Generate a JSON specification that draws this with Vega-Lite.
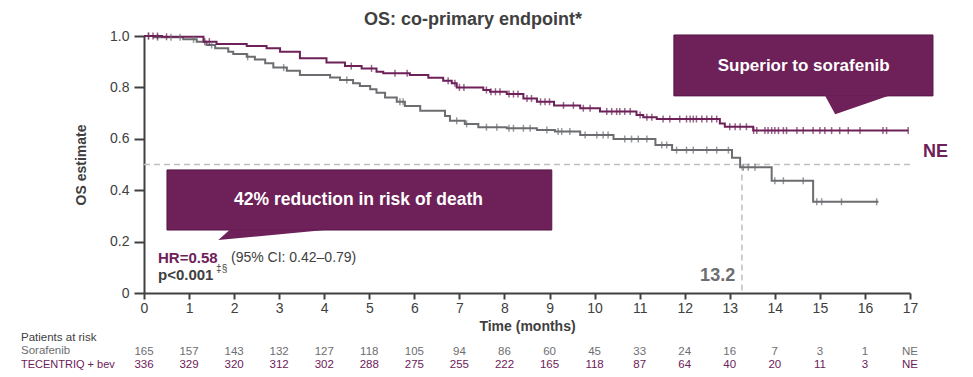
{
  "$schema": "https://vega.github.io/schema/vega-lite/v6.json",
  "width": 766,
  "height": 257,
  "autosize": {"type": "none"},
  "padding": {"left": 144, "top": 36, "right": 63, "bottom": 84},
  "background": "white",
  "title": {"text": "OS: co-primary endpoint*", "fontSize": 18, "fontWeight": "bold", "color": "#404040", "anchor": "middle", "offset": 0, "dx": -54, "font": "Liberation Sans"},
  "config": {
    "view": {"stroke": null},
    "font": "Liberation Sans",
    "axis": {"grid": false, "domainColor": "#404040", "domainWidth": 2, "tickColor": "#404040", "tickWidth": 2, "labelColor": "#404040", "labelFont": "Liberation Sans", "labelFontSize": 14, "titleColor": "#404040", "titleFont": "Liberation Sans", "titleFontSize": 14, "titleFontWeight": "bold", "labelOverlap": false, "labelFlush": false},
    "axisX": {"tickSize": 6, "labelPadding": 2, "titlePadding": 4},
    "axisY": {"tickSize": 10, "labelPadding": 5, "titlePadding": 21}
  },
  "datasets": {
    "km": [
      {"arm": "Sorafenib", "time": 0, "surv": 1.0},
      {"arm": "Sorafenib", "time": 0.22, "surv": 0.995},
      {"arm": "Sorafenib", "time": 0.87, "surv": 0.987},
      {"arm": "Sorafenib", "time": 1.17, "surv": 0.978},
      {"arm": "Sorafenib", "time": 1.39, "surv": 0.965},
      {"arm": "Sorafenib", "time": 1.58, "surv": 0.952},
      {"arm": "Sorafenib", "time": 1.87, "surv": 0.939},
      {"arm": "Sorafenib", "time": 1.98, "surv": 0.93},
      {"arm": "Sorafenib", "time": 2.28, "surv": 0.919},
      {"arm": "Sorafenib", "time": 2.46, "surv": 0.909},
      {"arm": "Sorafenib", "time": 2.69, "surv": 0.894},
      {"arm": "Sorafenib", "time": 2.87, "surv": 0.877},
      {"arm": "Sorafenib", "time": 3.17, "surv": 0.865},
      {"arm": "Sorafenib", "time": 3.46, "surv": 0.848},
      {"arm": "Sorafenib", "time": 4.13, "surv": 0.839},
      {"arm": "Sorafenib", "time": 4.35, "surv": 0.829},
      {"arm": "Sorafenib", "time": 4.64, "surv": 0.816},
      {"arm": "Sorafenib", "time": 4.79, "surv": 0.805},
      {"arm": "Sorafenib", "time": 5.02, "surv": 0.793},
      {"arm": "Sorafenib", "time": 5.16, "surv": 0.779},
      {"arm": "Sorafenib", "time": 5.35, "surv": 0.761},
      {"arm": "Sorafenib", "time": 5.61, "surv": 0.744},
      {"arm": "Sorafenib", "time": 5.79, "surv": 0.728},
      {"arm": "Sorafenib", "time": 6.13, "surv": 0.709},
      {"arm": "Sorafenib", "time": 6.68, "surv": 0.689},
      {"arm": "Sorafenib", "time": 6.79, "surv": 0.67},
      {"arm": "Sorafenib", "time": 7.12, "surv": 0.658},
      {"arm": "Sorafenib", "time": 7.42, "surv": 0.645},
      {"arm": "Sorafenib", "time": 8.05, "surv": 0.641},
      {"arm": "Sorafenib", "time": 8.72, "surv": 0.634},
      {"arm": "Sorafenib", "time": 9.12, "surv": 0.628},
      {"arm": "Sorafenib", "time": 9.68, "surv": 0.615},
      {"arm": "Sorafenib", "time": 10.42, "surv": 0.599},
      {"arm": "Sorafenib", "time": 11.35, "surv": 0.576},
      {"arm": "Sorafenib", "time": 11.72, "surv": 0.556},
      {"arm": "Sorafenib", "time": 13.05, "surv": 0.526},
      {"arm": "Sorafenib", "time": 13.23, "surv": 0.489},
      {"arm": "Sorafenib", "time": 13.93, "surv": 0.437},
      {"arm": "Sorafenib", "time": 14.85, "surv": 0.355},
      {"arm": "Sorafenib", "time": 16.3, "surv": 0.355},
      {"arm": "TECENTRIQ + bev", "time": 0, "surv": 1.0},
      {"arm": "TECENTRIQ + bev", "time": 0.4, "surv": 0.997},
      {"arm": "TECENTRIQ + bev", "time": 1.32, "surv": 0.978},
      {"arm": "TECENTRIQ + bev", "time": 1.61, "surv": 0.969},
      {"arm": "TECENTRIQ + bev", "time": 2.28, "surv": 0.961},
      {"arm": "TECENTRIQ + bev", "time": 2.72, "surv": 0.952},
      {"arm": "TECENTRIQ + bev", "time": 3.02, "surv": 0.939},
      {"arm": "TECENTRIQ + bev", "time": 3.46, "surv": 0.913},
      {"arm": "TECENTRIQ + bev", "time": 4.05, "surv": 0.897},
      {"arm": "TECENTRIQ + bev", "time": 4.46, "surv": 0.883},
      {"arm": "TECENTRIQ + bev", "time": 4.83, "surv": 0.874},
      {"arm": "TECENTRIQ + bev", "time": 5.16, "surv": 0.861},
      {"arm": "TECENTRIQ + bev", "time": 5.31, "surv": 0.855},
      {"arm": "TECENTRIQ + bev", "time": 5.9, "surv": 0.848},
      {"arm": "TECENTRIQ + bev", "time": 6.31, "surv": 0.838},
      {"arm": "TECENTRIQ + bev", "time": 6.64, "surv": 0.826},
      {"arm": "TECENTRIQ + bev", "time": 6.83, "surv": 0.816},
      {"arm": "TECENTRIQ + bev", "time": 6.94, "surv": 0.8},
      {"arm": "TECENTRIQ + bev", "time": 7.53, "surv": 0.79},
      {"arm": "TECENTRIQ + bev", "time": 7.68, "surv": 0.783},
      {"arm": "TECENTRIQ + bev", "time": 8.05, "surv": 0.774},
      {"arm": "TECENTRIQ + bev", "time": 8.42, "surv": 0.757},
      {"arm": "TECENTRIQ + bev", "time": 8.72, "surv": 0.744},
      {"arm": "TECENTRIQ + bev", "time": 9.1, "surv": 0.73},
      {"arm": "TECENTRIQ + bev", "time": 9.68, "surv": 0.719},
      {"arm": "TECENTRIQ + bev", "time": 10.12, "surv": 0.706},
      {"arm": "TECENTRIQ + bev", "time": 10.93, "surv": 0.693},
      {"arm": "TECENTRIQ + bev", "time": 11.08, "surv": 0.684},
      {"arm": "TECENTRIQ + bev", "time": 11.38, "surv": 0.677},
      {"arm": "TECENTRIQ + bev", "time": 12.78, "surv": 0.66},
      {"arm": "TECENTRIQ + bev", "time": 12.89, "surv": 0.647},
      {"arm": "TECENTRIQ + bev", "time": 13.52, "surv": 0.632},
      {"arm": "TECENTRIQ + bev", "time": 16.96, "surv": 0.632}
    ],
    "censor": [
      {"arm": "Sorafenib", "time": 0.1, "surv": 1.0},
      {"arm": "Sorafenib", "time": 0.3, "surv": 0.995},
      {"arm": "Sorafenib", "time": 0.6, "surv": 0.995},
      {"arm": "Sorafenib", "time": 0.8, "surv": 0.995},
      {"arm": "Sorafenib", "time": 1.1, "surv": 0.987},
      {"arm": "Sorafenib", "time": 1.5, "surv": 0.965},
      {"arm": "Sorafenib", "time": 2.3, "surv": 0.919},
      {"arm": "Sorafenib", "time": 3.1, "surv": 0.877},
      {"arm": "Sorafenib", "time": 4.5, "surv": 0.829},
      {"arm": "Sorafenib", "time": 5.68, "surv": 0.744},
      {"arm": "Sorafenib", "time": 5.75, "surv": 0.744},
      {"arm": "Sorafenib", "time": 6.94, "surv": 0.67},
      {"arm": "Sorafenib", "time": 7.16, "surv": 0.658},
      {"arm": "Sorafenib", "time": 7.6, "surv": 0.645},
      {"arm": "Sorafenib", "time": 7.83, "surv": 0.645},
      {"arm": "Sorafenib", "time": 8.1, "surv": 0.641},
      {"arm": "Sorafenib", "time": 8.2, "surv": 0.641},
      {"arm": "Sorafenib", "time": 8.42, "surv": 0.641},
      {"arm": "Sorafenib", "time": 8.57, "surv": 0.641},
      {"arm": "Sorafenib", "time": 8.94, "surv": 0.634},
      {"arm": "Sorafenib", "time": 9.19, "surv": 0.628},
      {"arm": "Sorafenib", "time": 9.27, "surv": 0.628},
      {"arm": "Sorafenib", "time": 9.45, "surv": 0.628},
      {"arm": "Sorafenib", "time": 9.79, "surv": 0.615},
      {"arm": "Sorafenib", "time": 10.05, "surv": 0.615},
      {"arm": "Sorafenib", "time": 10.19, "surv": 0.615},
      {"arm": "Sorafenib", "time": 10.3, "surv": 0.615},
      {"arm": "Sorafenib", "time": 10.67, "surv": 0.599},
      {"arm": "Sorafenib", "time": 10.82, "surv": 0.599},
      {"arm": "Sorafenib", "time": 10.97, "surv": 0.599},
      {"arm": "Sorafenib", "time": 11.16, "surv": 0.599},
      {"arm": "Sorafenib", "time": 11.49, "surv": 0.576},
      {"arm": "Sorafenib", "time": 11.6, "surv": 0.576},
      {"arm": "Sorafenib", "time": 11.82, "surv": 0.556},
      {"arm": "Sorafenib", "time": 12.04, "surv": 0.556},
      {"arm": "Sorafenib", "time": 12.19, "surv": 0.556},
      {"arm": "Sorafenib", "time": 12.49, "surv": 0.556},
      {"arm": "Sorafenib", "time": 12.71, "surv": 0.556},
      {"arm": "Sorafenib", "time": 12.97, "surv": 0.556},
      {"arm": "Sorafenib", "time": 13.3, "surv": 0.489},
      {"arm": "Sorafenib", "time": 13.41, "surv": 0.489},
      {"arm": "Sorafenib", "time": 13.56, "surv": 0.489},
      {"arm": "Sorafenib", "time": 14.0, "surv": 0.437},
      {"arm": "Sorafenib", "time": 14.19, "surv": 0.437},
      {"arm": "Sorafenib", "time": 14.63, "surv": 0.437},
      {"arm": "Sorafenib", "time": 14.93, "surv": 0.355},
      {"arm": "Sorafenib", "time": 15.04, "surv": 0.355},
      {"arm": "Sorafenib", "time": 15.48, "surv": 0.355},
      {"arm": "Sorafenib", "time": 16.26, "surv": 0.355},
      {"arm": "TECENTRIQ + bev", "time": 0.1, "surv": 1.0},
      {"arm": "TECENTRIQ + bev", "time": 0.2, "surv": 1.0},
      {"arm": "TECENTRIQ + bev", "time": 0.3, "surv": 1.0},
      {"arm": "TECENTRIQ + bev", "time": 0.5, "surv": 0.997},
      {"arm": "TECENTRIQ + bev", "time": 1.35, "surv": 0.978},
      {"arm": "TECENTRIQ + bev", "time": 1.45, "surv": 0.978},
      {"arm": "TECENTRIQ + bev", "time": 4.6, "surv": 0.883},
      {"arm": "TECENTRIQ + bev", "time": 5.05, "surv": 0.874},
      {"arm": "TECENTRIQ + bev", "time": 5.57, "surv": 0.855},
      {"arm": "TECENTRIQ + bev", "time": 5.84, "surv": 0.855},
      {"arm": "TECENTRIQ + bev", "time": 6.75, "surv": 0.826},
      {"arm": "TECENTRIQ + bev", "time": 6.9, "surv": 0.816},
      {"arm": "TECENTRIQ + bev", "time": 7.0, "surv": 0.8},
      {"arm": "TECENTRIQ + bev", "time": 7.1, "surv": 0.8},
      {"arm": "TECENTRIQ + bev", "time": 7.6, "surv": 0.79},
      {"arm": "TECENTRIQ + bev", "time": 7.7, "surv": 0.783},
      {"arm": "TECENTRIQ + bev", "time": 7.8, "surv": 0.783},
      {"arm": "TECENTRIQ + bev", "time": 7.9, "surv": 0.783},
      {"arm": "TECENTRIQ + bev", "time": 8.1, "surv": 0.774},
      {"arm": "TECENTRIQ + bev", "time": 8.2, "surv": 0.774},
      {"arm": "TECENTRIQ + bev", "time": 8.3, "surv": 0.774},
      {"arm": "TECENTRIQ + bev", "time": 8.5, "surv": 0.757},
      {"arm": "TECENTRIQ + bev", "time": 8.6, "surv": 0.757},
      {"arm": "TECENTRIQ + bev", "time": 8.8, "surv": 0.744},
      {"arm": "TECENTRIQ + bev", "time": 8.9, "surv": 0.744},
      {"arm": "TECENTRIQ + bev", "time": 9.0, "surv": 0.744},
      {"arm": "TECENTRIQ + bev", "time": 9.31, "surv": 0.73},
      {"arm": "TECENTRIQ + bev", "time": 9.53, "surv": 0.73},
      {"arm": "TECENTRIQ + bev", "time": 9.75, "surv": 0.719},
      {"arm": "TECENTRIQ + bev", "time": 9.9, "surv": 0.719},
      {"arm": "TECENTRIQ + bev", "time": 10.27, "surv": 0.706},
      {"arm": "TECENTRIQ + bev", "time": 10.38, "surv": 0.706},
      {"arm": "TECENTRIQ + bev", "time": 10.49, "surv": 0.706},
      {"arm": "TECENTRIQ + bev", "time": 10.56, "surv": 0.706},
      {"arm": "TECENTRIQ + bev", "time": 10.67, "surv": 0.706},
      {"arm": "TECENTRIQ + bev", "time": 10.79, "surv": 0.706},
      {"arm": "TECENTRIQ + bev", "time": 11.01, "surv": 0.693},
      {"arm": "TECENTRIQ + bev", "time": 11.16, "surv": 0.684},
      {"arm": "TECENTRIQ + bev", "time": 11.27, "surv": 0.684},
      {"arm": "TECENTRIQ + bev", "time": 11.52, "surv": 0.677},
      {"arm": "TECENTRIQ + bev", "time": 11.67, "surv": 0.677},
      {"arm": "TECENTRIQ + bev", "time": 11.89, "surv": 0.677},
      {"arm": "TECENTRIQ + bev", "time": 12.04, "surv": 0.677},
      {"arm": "TECENTRIQ + bev", "time": 12.12, "surv": 0.677},
      {"arm": "TECENTRIQ + bev", "time": 12.19, "surv": 0.677},
      {"arm": "TECENTRIQ + bev", "time": 12.26, "surv": 0.677},
      {"arm": "TECENTRIQ + bev", "time": 12.38, "surv": 0.677},
      {"arm": "TECENTRIQ + bev", "time": 12.49, "surv": 0.677},
      {"arm": "TECENTRIQ + bev", "time": 12.6, "surv": 0.677},
      {"arm": "TECENTRIQ + bev", "time": 12.71, "surv": 0.677},
      {"arm": "TECENTRIQ + bev", "time": 13.0, "surv": 0.647},
      {"arm": "TECENTRIQ + bev", "time": 13.12, "surv": 0.647},
      {"arm": "TECENTRIQ + bev", "time": 13.23, "surv": 0.647},
      {"arm": "TECENTRIQ + bev", "time": 13.37, "surv": 0.647},
      {"arm": "TECENTRIQ + bev", "time": 13.53, "surv": 0.632},
      {"arm": "TECENTRIQ + bev", "time": 13.6, "surv": 0.632},
      {"arm": "TECENTRIQ + bev", "time": 13.78, "surv": 0.632},
      {"arm": "TECENTRIQ + bev", "time": 13.85, "surv": 0.632},
      {"arm": "TECENTRIQ + bev", "time": 13.93, "surv": 0.632},
      {"arm": "TECENTRIQ + bev", "time": 14.0, "surv": 0.632},
      {"arm": "TECENTRIQ + bev", "time": 14.08, "surv": 0.632},
      {"arm": "TECENTRIQ + bev", "time": 14.19, "surv": 0.632},
      {"arm": "TECENTRIQ + bev", "time": 14.26, "surv": 0.632},
      {"arm": "TECENTRIQ + bev", "time": 14.49, "surv": 0.632},
      {"arm": "TECENTRIQ + bev", "time": 14.63, "surv": 0.632},
      {"arm": "TECENTRIQ + bev", "time": 14.85, "surv": 0.632},
      {"arm": "TECENTRIQ + bev", "time": 15.0, "surv": 0.632},
      {"arm": "TECENTRIQ + bev", "time": 15.11, "surv": 0.632},
      {"arm": "TECENTRIQ + bev", "time": 15.26, "surv": 0.632},
      {"arm": "TECENTRIQ + bev", "time": 15.44, "surv": 0.632},
      {"arm": "TECENTRIQ + bev", "time": 15.63, "surv": 0.632},
      {"arm": "TECENTRIQ + bev", "time": 15.89, "surv": 0.632},
      {"arm": "TECENTRIQ + bev", "time": 16.4, "surv": 0.632},
      {"arm": "TECENTRIQ + bev", "time": 16.48, "surv": 0.632},
      {"arm": "TECENTRIQ + bev", "time": 16.96, "surv": 0.632}
    ],
    "riskSor": [
      {"time": 0, "n": "165"}, {"time": 1, "n": "157"}, {"time": 2, "n": "143"}, {"time": 3, "n": "132"},
      {"time": 4, "n": "127"}, {"time": 5, "n": "118"}, {"time": 6, "n": "105"}, {"time": 7, "n": "94"},
      {"time": 8, "n": "86"}, {"time": 9, "n": "60"}, {"time": 10, "n": "45"}, {"time": 11, "n": "33"},
      {"time": 12, "n": "24"}, {"time": 13, "n": "16"}, {"time": 14, "n": "7"}, {"time": 15, "n": "3"},
      {"time": 16, "n": "1"}, {"time": 17, "n": "NE"}
    ],
    "riskTec": [
      {"time": 0, "n": "336"}, {"time": 1, "n": "329"}, {"time": 2, "n": "320"}, {"time": 3, "n": "312"},
      {"time": 4, "n": "302"}, {"time": 5, "n": "288"}, {"time": 6, "n": "275"}, {"time": 7, "n": "255"},
      {"time": 8, "n": "222"}, {"time": 9, "n": "165"}, {"time": 10, "n": "118"}, {"time": 11, "n": "87"},
      {"time": 12, "n": "64"}, {"time": 13, "n": "40"}, {"time": 14, "n": "20"}, {"time": 15, "n": "11"},
      {"time": 16, "n": "3"}, {"time": 17, "n": "NE"}
    ],
    "boxes": [
      {"id": "sup", "x0": 11.76, "x1": 17.51, "y0": 0.767, "y1": 1.004},
      {"id": "hr", "x0": 0.51, "x1": 9.05, "y0": 0.245, "y1": 0.479}
    ],
    "pointers": [
      {"id": "sup", "y": 0.769, "xa": 15.11, "xb": 16.56},
      {"id": "sup", "y": 0.696, "xa": 15.34, "xb": 15.34},
      {"id": "hr", "y": 0.247, "xa": 1.91, "xb": 4.13},
      {"id": "hr", "y": 0.206, "xa": 1.65, "xb": 1.65}
    ],
    "refs": [
      {"x": 0, "x2": 17, "y": 0.5, "y2": 0.5},
      {"x": 13.27, "x2": 13.27, "y": 0.5, "y2": 0}
    ]
  },
  "layer": [
    {
      "data": {"name": "boxes"},
      "mark": {"type": "rect", "fill": "#6d2158", "stroke": "#561645", "strokeWidth": 1},
      "encoding": {
        "x": {"field": "x0", "type": "quantitative", "scale": {"domain": [0, 17], "nice": false, "zero": false}, "title": "Time (months)"},
        "x2": {"field": "x1"},
        "y": {"field": "y0", "type": "quantitative", "scale": {"domain": [0, 1], "nice": false}, "title": "OS estimate"},
        "y2": {"field": "y1"}
      }
    },
    {
      "data": {"name": "pointers"},
      "mark": {"type": "area", "orient": "horizontal", "fill": "#6d2158"},
      "encoding": {
        "y": {"field": "y", "type": "quantitative", "title": "OS estimate"},
        "x": {"field": "xa", "type": "quantitative", "title": "Time (months)"},
        "x2": {"field": "xb"},
        "detail": {"field": "id"}
      }
    },
    {
      "data": {"name": "refs"},
      "mark": {"type": "rule", "stroke": "#bfbfbf", "strokeWidth": 1.5, "strokeDash": [6, 4]},
      "encoding": {
        "x": {"field": "x", "type": "quantitative", "title": "Time (months)"},
        "x2": {"field": "x2"},
        "y": {"field": "y", "type": "quantitative", "title": "OS estimate"},
        "y2": {"field": "y2"}
      }
    },
    {
      "data": {"name": "km"},
      "mark": {"type": "line", "interpolate": "step-after", "strokeWidth": 2},
      "encoding": {
        "x": {"field": "time", "type": "quantitative", "title": "Time (months)", "axis": {"values": [0,1,2,3,4,5,6,7,8,9,10,11,12,13,14,15,16,17]}},
        "y": {"field": "surv", "type": "quantitative", "title": "OS estimate", "axis": {"values": [0, 0.2, 0.4, 0.6, 0.8, 1], "labelExpr": "datum.value == 0 ? '0' : format(datum.value, '.1f')"}},
        "color": {"field": "arm", "type": "nominal", "scale": {"domain": ["Sorafenib", "TECENTRIQ + bev"], "range": ["#6b6d70", "#6d2158"]}, "legend": null},
        "detail": {"field": "arm"}
      }
    },
    {
      "data": {"name": "censor"},
      "mark": {"type": "tick", "orient": "vertical", "size": 7, "thickness": 1.5},
      "encoding": {
        "x": {"field": "time", "type": "quantitative", "title": "Time (months)"},
        "y": {"field": "surv", "type": "quantitative", "title": "OS estimate"},
        "color": {"field": "arm", "type": "nominal", "legend": null}
      }
    },
    {
      "data": {"name": "riskSor"},
      "mark": {"type": "text", "fontSize": 11.5, "color": "#6d6e71", "align": "center", "baseline": "middle"},
      "encoding": {
        "x": {"field": "time", "type": "quantitative", "title": "Time (months)"},
        "y": {"datum": -0.23},
        "text": {"field": "n"}
      }
    },
    {
      "data": {"name": "riskTec"},
      "mark": {"type": "text", "fontSize": 11.5, "color": "#6d2158", "align": "center", "baseline": "middle"},
      "encoding": {
        "x": {"field": "time", "type": "quantitative", "title": "Time (months)"},
        "y": {"datum": -0.282},
        "text": {"field": "n"}
      }
    },
    {
      "data": {"values": [{"label": "Patients at risk"}]},
      "mark": {"type": "text", "fontSize": 11.5, "color": "#404040", "align": "left", "baseline": "middle"},
      "encoding": {"x": {"datum": -2.73}, "y": {"datum": -0.176}, "text": {"field": "label"}}
    },
    {
      "data": {"values": [{"label": "Sorafenib"}]},
      "mark": {"type": "text", "fontSize": 11.5, "color": "#6d6e71", "align": "left", "baseline": "middle"},
      "encoding": {"x": {"datum": -2.73}, "y": {"datum": -0.227}, "text": {"field": "label"}}
    },
    {
      "data": {"values": [{"label": "TECENTRIQ + bev"}]},
      "mark": {"type": "text", "fontSize": 11, "color": "#6d2158", "align": "left", "baseline": "middle"},
      "encoding": {"x": {"datum": -2.73}, "y": {"datum": -0.282}, "text": {"field": "label"}}
    },
    {
      "data": {"values": [{"label": "Superior to sorafenib"}]},
      "mark": {"type": "text", "fontSize": 17, "fontWeight": "bold", "color": "white", "align": "center", "baseline": "middle"},
      "encoding": {"x": {"datum": 14.64}, "y": {"datum": 0.883}, "text": {"field": "label"}}
    },
    {
      "data": {"values": [{"label": "42% reduction in risk of death"}]},
      "mark": {"type": "text", "fontSize": 17.5, "fontWeight": "bold", "color": "white", "align": "center", "baseline": "middle"},
      "encoding": {"x": {"datum": 4.76}, "y": {"datum": 0.362}, "text": {"field": "label"}}
    },
    {
      "data": {"values": [{"label": "HR=0.58"}]},
      "mark": {"type": "text", "fontSize": 15, "fontWeight": "bold", "color": "#6d2158", "align": "left", "baseline": "middle"},
      "encoding": {"x": {"datum": 0.31}, "y": {"datum": 0.136}, "text": {"field": "label"}}
    },
    {
      "data": {"values": [{"label": "(95% CI: 0.42\u20130.79)"}]},
      "mark": {"type": "text", "fontSize": 14, "color": "#404040", "align": "left", "baseline": "middle"},
      "encoding": {"x": {"datum": 1.93}, "y": {"datum": 0.136}, "text": {"field": "label"}}
    },
    {
      "data": {"values": [{"label": "p<0.001"}]},
      "mark": {"type": "text", "fontSize": 15, "fontWeight": "bold", "color": "#404040", "align": "left", "baseline": "middle"},
      "encoding": {"x": {"datum": 0.31}, "y": {"datum": 0.07}, "text": {"field": "label"}}
    },
    {
      "data": {"values": [{"label": "\u2021\u00a7"}]},
      "mark": {"type": "text", "fontSize": 10, "color": "#404040", "align": "left", "baseline": "middle"},
      "encoding": {"x": {"datum": 1.6}, "y": {"datum": 0.095}, "text": {"field": "label"}}
    },
    {
      "data": {"values": [{"label": "13.2"}]},
      "mark": {"type": "text", "fontSize": 18, "fontWeight": "bold", "color": "#6d6e71", "align": "right", "baseline": "middle"},
      "encoding": {"x": {"datum": 13.12}, "y": {"datum": 0.066}, "text": {"field": "label"}}
    },
    {
      "data": {"values": [{"label": "NE"}]},
      "mark": {"type": "text", "fontSize": 18, "fontWeight": "bold", "color": "#6d2158", "align": "left", "baseline": "middle"},
      "encoding": {"x": {"datum": 17.29}, "y": {"datum": 0.549}, "text": {"field": "label"}}
    }
  ]
}
